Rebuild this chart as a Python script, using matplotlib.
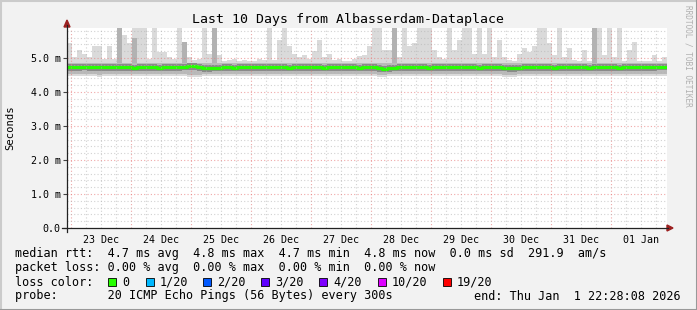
import numpy as np
import matplotlib
matplotlib.use("Agg")
import matplotlib.pyplot as plt
import matplotlib.dates as mdates
from matplotlib.patches import Rectangle, Polygon
from matplotlib.lines import Line2D

plt.rcParams['font.family'] = ['DejaVu Sans Mono']

W, H = 697, 310
END = np.datetime64('2026-01-01T22:28:08')
START = END - np.timedelta64(10, 'D')
STEP = np.timedelta64(2, 'h')

# smoke extents per 2-hour slot (ms)
smoke_max = [5.43, 5.03, 5.24, 5.13, 5.03, 5.34, 5.34, 4.98, 5.34, 4.98,
             6.2, 5.68, 5.43, 6.2, 6.2, 6.2, 4.98, 6.2, 5.18, 5.18,
             5.03, 4.98, 6.2, 5.47, 5.03, 4.93, 4.98, 6.2, 5.13, 6.2,
             5.08, 4.9, 4.93, 4.98, 4.9, 4.93, 4.9, 4.9, 4.98, 4.93,
             6.2, 4.93, 5.53, 6.2, 5.34, 5.12, 5.03, 5.08, 4.98, 5.2,
             5.53, 5.03, 5.13, 4.93, 4.98, 4.92, 4.9, 4.96, 5.06, 5.08,
             5.34, 6.2, 6.2, 5.24, 5.24, 6.2, 5.03, 6.2, 5.34, 5.43,
             6.2, 6.2, 6.2, 5.24, 5.03, 4.98, 6.2, 5.24, 5.53, 6.2,
             6.2, 5.13, 6.2, 5.13, 6.2, 5.03, 5.53, 5.03, 4.93, 4.9,
             5.13, 5.28, 5.18, 5.34, 6.2, 6.2, 5.43, 5.08, 6.2, 5.03,
             5.28, 4.93, 4.9, 5.24, 4.9, 6.2, 6.2, 5.08, 6.2, 5.03,
             6.2, 4.9, 5.24, 5.47, 4.9, 4.9, 4.9, 5.08, 4.9, 5.03]

smoke_min = [4.47, 4.46, 4.47, 4.48, 4.46, 4.47, 4.45, 4.47, 4.48, 4.47,
             4.46, 4.47, 4.47, 4.46, 4.48, 4.47, 4.47, 4.46, 4.47, 4.48,
             4.47, 4.46, 4.47, 4.47, 4.45, 4.44, 4.44, 4.46, 4.47, 4.47,
             4.48, 4.47, 4.46, 4.47, 4.48, 4.47, 4.47, 4.46, 4.47, 4.47,
             4.47, 4.48, 4.47, 4.46, 4.47, 4.47, 4.48, 4.47, 4.46, 4.47,
             4.47, 4.47, 4.48, 4.47, 4.46, 4.47, 4.47, 4.48, 4.47, 4.47,
             4.47, 4.46, 4.45, 4.45, 4.46, 4.47, 4.47, 4.48, 4.47, 4.47,
             4.46, 4.47, 4.47, 4.48, 4.47, 4.47, 4.46, 4.47, 4.47, 4.48,
             4.47, 4.47, 4.46, 4.47, 4.47, 4.48, 4.46, 4.45, 4.45, 4.45,
             4.46, 4.47, 4.47, 4.48, 4.47, 4.46, 4.47, 4.47, 4.48, 4.47,
             4.47, 4.46, 4.47, 4.47, 4.48, 4.47, 4.46, 4.47, 4.47, 4.48,
             4.47, 4.46, 4.47, 4.47, 4.48, 4.47, 4.47, 4.48, 4.48, 4.48]

median_rtt = [4.73, 4.74, 4.74, 4.75, 4.74, 4.73, 4.73, 4.74, 4.73, 4.73,
              4.74, 4.73, 4.73, 4.72, 4.73, 4.74, 4.73, 4.73, 4.72, 4.73,
              4.73, 4.74, 4.74, 4.75, 4.76, 4.76, 4.74, 4.71, 4.71, 4.72,
              4.72, 4.73, 4.73, 4.72, 4.73, 4.73, 4.74, 4.73, 4.73, 4.73,
              4.73, 4.74, 4.73, 4.73, 4.72, 4.73, 4.73, 4.73, 4.74, 4.73,
              4.73, 4.72, 4.73, 4.73, 4.74, 4.73, 4.73, 4.73, 4.72, 4.73,
              4.74, 4.73, 4.70, 4.69, 4.71, 4.72, 4.73, 4.73, 4.74, 4.73,
              4.73, 4.73, 4.72, 4.73, 4.73, 4.74, 4.73, 4.73, 4.73, 4.74,
              4.73, 4.73, 4.72, 4.73, 4.74, 4.73, 4.73, 4.72, 4.71, 4.71,
              4.72, 4.73, 4.73, 4.73, 4.74, 4.73, 4.73, 4.72, 4.73, 4.73,
              4.73, 4.74, 4.73, 4.73, 4.72, 4.73, 4.73, 4.74, 4.73, 4.73,
              4.72, 4.73, 4.73, 4.74, 4.73, 4.73, 4.74, 4.74, 4.75, 4.75]

# slots where several pings were slow (darker smoke)
dark_idx = [10, 13, 23, 29, 65, 105]
dark_top = [6.2, 5.6, 5.47, 6.2, 6.2, 6.2]

day_labels = ['23 Dec', '24 Dec', '25 Dec', '26 Dec', '27 Dec',
              '28 Dec', '29 Dec', '30 Dec', '31 Dec', '01 Jan']
y_ticks = [0, 1, 2, 3, 4, 5]
y_labels = ['0.0', '1.0 m', '2.0 m', '3.0 m', '4.0 m', '5.0 m']

rtt_line = "median rtt:  4.7 ms avg  4.8 ms max  4.7 ms min  4.8 ms now  0.0 ms sd  291.9  am/s"
loss_line = "packet loss: 0.00 % avg  0.00 % max  0.00 % min  0.00 % now"
probe_line = "probe:       20 ICMP Echo Pings (56 Bytes) every 300s"
end_line = "end: Thu Jan  1 22:28:08 2026"
loss_labels = ['0', '1/20', '2/20', '3/20', '4/20', '10/20', '19/20']
loss_colors = ['#26ff00', '#00b8ff', '#0059ff', '#5e00ff', '#7e00ff', '#dd00ff', '#ff0000']


def fx(x):
    return x / W


def fy(y):
    return 1 - y / H


fig = plt.figure(figsize=(W / 100, H / 100), dpi=100, facecolor='#f2f2f2')
ax = fig.add_axes([fx(67), fy(228), 600 / W, 200 / H])
ax.set_facecolor('white')

edges = START + np.arange(len(smoke_max) + 1) * STEP
x = mdates.date2num(edges)
hi = np.append(smoke_max, smoke_max[-1])
lo = np.append(smoke_min, smoke_min[-1])
med = np.append(median_rtt, median_rtt[-1])

ax.fill_between(x, lo, hi, step='post', color='#dadada', lw=0, zorder=1)
ax.fill_between(x, lo + 0.06, np.full_like(med, 4.84), step='post', color='#bababa', lw=0, zorder=2)
for i, top in zip(dark_idx, dark_top):
    ax.fill_between(x[i:i + 2], 4.84, top, color='#b2b2b2', lw=0, zorder=2)
ax.fill_between(x, med - 0.11, med + 0.08, step='post', color='#8a8a8a', lw=0, zorder=3)
ax.step(x, med, where='post', color=loss_colors[0], lw=2.3, zorder=5)

ymax = 200 / 34
ax.set_xlim(x[0], x[-1])
ax.set_ylim(0, ymax)

# grid, rrdtool style: drawn over the graph
day0 = np.datetime64('2025-12-23T00:00')
for k in range(-1, 11):
    for h in (0, 6, 12, 18):
        t = mdates.date2num(day0 + np.timedelta64(k, 'D') + np.timedelta64(h, 'h'))
        if x[0] < t < x[-1]:
            if h == 0:
                ax.axvline(t, color='#e87a7a', lw=0.8, ls=(0, (1, 2)), alpha=0.65, zorder=6)
            else:
                ax.axvline(t, color='#b4b4b4', lw=0.8, ls=(0, (1, 2)), alpha=0.6, zorder=6)
for v in np.arange(0.2, ymax, 0.2):
    if abs(v - round(v)) < 1e-6:
        ax.axhline(v, color='#e87a7a', lw=0.8, ls=(0, (1, 2)), alpha=0.65, zorder=6)
    else:
        ax.axhline(v, color='#b4b4b4', lw=0.8, ls=(0, (1, 2)), alpha=0.6, zorder=6)

noons = mdates.date2num(day0 + np.arange(len(day_labels)) * np.timedelta64(1, 'D') + np.timedelta64(12, 'h'))
ax.set_xticks(noons)
ax.set_xticklabels(day_labels, fontsize=7.2)
ax.tick_params(axis='x', length=0, pad=5)
ax.set_yticks(y_ticks)
ax.set_yticklabels(y_labels, fontsize=7.2)
ax.tick_params(axis='y', length=3, width=0.8, color='#444444', pad=1.5)
for s in ax.spines.values():
    s.set_visible(False)

# axes with arrows
axis_col = '#222222'
arrow_col = '#9c2020'
fig.add_artist(Line2D([fx(62), fx(668)], [fy(228), fy(228)], color=axis_col, lw=0.9))
fig.add_artist(Line2D([fx(67), fx(67)], [fy(232), fy(25)], color=axis_col, lw=0.9))
fig.add_artist(Polygon([(fx(667), fy(225)), (fx(667), fy(231)), (fx(673), fy(228))],
                       closed=True, color=arrow_col, transform=fig.transFigure))
fig.add_artist(Polygon([(fx(64), fy(27)), (fx(70), fy(27)), (fx(67), fy(20))],
                       closed=True, color=arrow_col, transform=fig.transFigure))

fig.text(fx(348), fy(20), "Last 10 Days from Albasserdam-Dataplace", ha='center', va='center', fontsize=9.5)
fig.text(fx(10), fy(128), "Seconds", rotation=90, ha='center', va='center', fontsize=7.6)
fig.text(fx(688), fy(5), "RRDTOOL / TOBI OETIKER", rotation=-90, ha='center', va='top',
         fontsize=5.6, color='#b0b0b0')

fs = 8.5
fig.text(fx(15), fy(254), rtt_line, ha='left', va='center', fontsize=fs)
fig.text(fx(15), fy(268), loss_line, ha='left', va='center', fontsize=fs)
fig.text(fx(15), fy(282), "loss color:", ha='left', va='center', fontsize=fs)
fig.text(fx(15), fy(296), probe_line, ha='left', va='center', fontsize=fs)
fig.text(fx(681), fy(296), end_line, ha='right', va='center', fontsize=fs)

box_x = [108, 146, 203, 261, 319, 378, 443]
for bx, lab, col in zip(box_x, loss_labels, loss_colors):
    fig.add_artist(Rectangle((fx(bx), fy(286)), 8 / W, 8 / H, transform=fig.transFigure,
                             facecolor=col, edgecolor='black', lw=0.6))
    fig.text(fx(bx + 14), fy(282), lab, ha='left', va='center', fontsize=fs)

# rrdtool shaded frame
fig.add_artist(Line2D([0, 1], [fy(0.5), fy(0.5)], color='#cbcbcb', lw=1.5))
fig.add_artist(Line2D([fx(0.5), fx(0.5)], [0, 1], color='#cbcbcb', lw=1.5))
fig.add_artist(Line2D([0, 1], [fy(309.5), fy(309.5)], color='#999999', lw=1.5))
fig.add_artist(Line2D([fx(696.5), fx(696.5)], [0, 1], color='#999999', lw=1.5))

fig.savefig('out.png', dpi=100, facecolor=fig.get_facecolor())
